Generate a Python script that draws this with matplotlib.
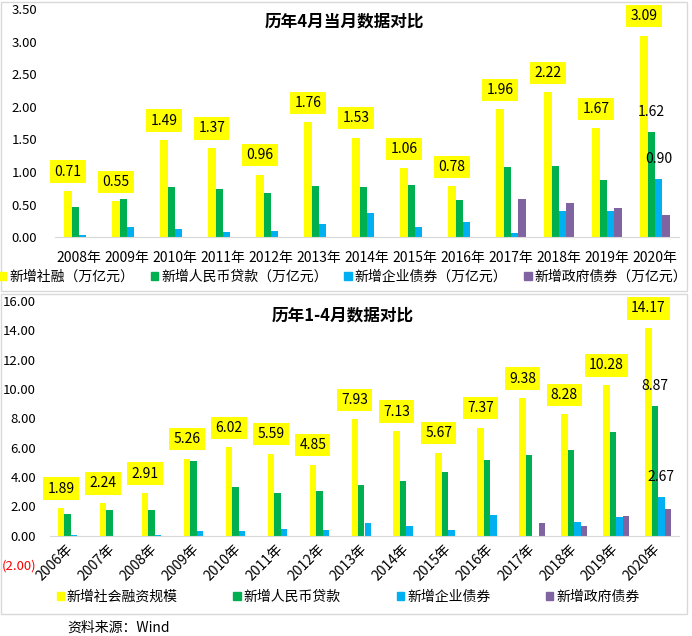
import matplotlib
matplotlib.use('Agg')
import matplotlib.pyplot as plt
from matplotlib.patches import Rectangle
from matplotlib.ticker import FuncFormatter
import numpy as np

plt.rcParams['font.family'] = ['Noto Sans CJK SC', 'DejaVu Sans']

# 历年4月当月 (万亿元)
years_m = ['2008年', '2009年', '2010年', '2011年', '2012年', '2013年', '2014年',
           '2015年', '2016年', '2017年', '2018年', '2019年', '2020年']
tsf_m = [0.71, 0.55, 1.49, 1.37, 0.96, 1.76, 1.53, 1.06, 0.78, 1.96, 2.22, 1.67, 3.09]
loan_m = [0.46, 0.59, 0.77, 0.74, 0.68, 0.79, 0.77, 0.80, 0.57, 1.08, 1.09, 0.88, 1.62]
corp_m = [0.035, 0.16, 0.13, 0.08, 0.10, 0.20, 0.37, 0.16, 0.23, 0.07, 0.40, 0.40, 0.90]
gov_m = [0, 0, 0, 0, 0, 0, 0, 0, 0, 0.59, 0.53, 0.45, 0.34]
names_m = ['新增社融（万亿元）', '新增人民币贷款（万亿元）', '新增企业债券（万亿元）', '新增政府债券（万亿元）']

# 历年1-4月累计
years_c = ['2006年', '2007年', '2008年', '2009年', '2010年', '2011年', '2012年', '2013年',
           '2014年', '2015年', '2016年', '2017年', '2018年', '2019年', '2020年']
tsf_c = [1.89, 2.24, 2.91, 5.26, 6.02, 5.59, 4.85, 7.93, 7.13, 5.67, 7.37, 9.38, 8.28, 10.28, 14.17]
loan_c = [1.48, 1.75, 1.75, 5.09, 3.32, 2.91, 3.05, 3.46, 3.73, 4.34, 5.16, 5.50, 5.84, 7.07, 8.87]
corp_c = [0.05, 0, 0.05, 0.32, 0.32, 0.46, 0.39, 0.87, 0.66, 0.39, 1.41, -0.08, 0.93, 1.27, 2.67]
gov_c = [0, 0, 0, 0, 0, 0, 0, 0, 0, 0, 0, 0.87, 0.66, 1.34, 1.82]
names_c = ['新增社会融资规模', '新增人民币贷款', '新增企业债券', '新增政府债券']

colors = ['#FFFF00', '#00B050', '#00B0F0', '#8064A2']
W, H = 692, 636

fig = plt.figure(figsize=(W / 100, H / 100), dpi=100)

# panel borders
for y0, y1 in [(2, 291), (294, 614)]:
    fig.add_artist(Rectangle((1 / W, 1 - y1 / H), 686 / W, (y1 - y0) / H,
                             transform=fig.transFigure, fill=False,
                             ec='#D9D9D9', lw=1))


def draw(ax, years, series, ylim, step, label_pad):
    x = np.arange(len(years))
    w = 0.155
    for k, (vals, c) in enumerate(zip(series, colors)):
        ax.bar(x + (k - 1.5) * w, vals, w, color=c, zorder=2)
    # yellow labels
    for xi, v in zip(x, series[0]):
        ax.annotate(f'{v:.2f}', (xi - 1.5 * w, v), xytext=(0, 14),
                    textcoords='offset points', ha='center', va='center',
                    fontsize=10,
                    bbox=dict(boxstyle='square,pad=0.3', fc='#FFFF00', ec='none'))
    # 2020 loan / corp labels
    for k in (1, 2):
        v = series[k][-1]
        ax.annotate(f'{v:.2f}', (x[-1] + (k - 1.5) * w, v), xytext=(0, 14),
                    textcoords='offset points', ha='center', va='center',
                    fontsize=10)
    ax.set_xlim(-0.5, len(years) - 0.5)
    ax.set_ylim(*ylim)
    ax.set_yticks(np.arange(ylim[0], ylim[1] + step / 2, step))
    ax.set_xticks(x)
    for s in ['top', 'right', 'left']:
        ax.spines[s].set_visible(False)
    ax.spines['bottom'].set_position(('data', 0))
    ax.spines['bottom'].set_color('#D9D9D9')
    ax.tick_params(length=0, labelsize=10)
    ax.tick_params(axis='y', pad=label_pad, labelsize=9.5)
    ax.patch.set_alpha(0)


ax1 = fig.add_axes([55 / W, 1 - 237.3 / H, 624 / W, 228.3 / H])
draw(ax1, years_m, [tsf_m, loan_m, corp_m, gov_m], (0, 3.5), 0.5, 13)
ax1.set_xticklabels(years_m, fontsize=10)
ax1.tick_params(axis='x', pad=10)
ax1.yaxis.set_major_formatter(FuncFormatter(lambda v, p: f'{v:.2f}'))
fig.text(344 / W, 1 - 21 / H, '历年4月当月数据对比', ha='center', va='center',
         fontsize=12, fontweight='bold')

ax2 = fig.add_axes([50 / W, 1 - 565 / H, 629 / W, 264 / H])
draw(ax2, years_c, [tsf_c, loan_c, corp_c, gov_c], (-2, 16), 2, 10)
ax2.set_xticklabels(years_c, fontsize=10, rotation=45, ha='right',
                    rotation_mode='anchor', va='center')
ax2.tick_params(axis='x', pad=8)
ax2.yaxis.set_major_formatter(
    FuncFormatter(lambda v, p: f'({abs(v):.2f})' if v < 0 else f'{v:.2f}'))
fig.canvas.draw()
for t in ax2.get_yticklabels():
    if t.get_text().startswith('('):
        t.set_color('#FF0000')
fig.text(343 / W, 1 - 315 / H, '历年1-4月数据对比', ha='center', va='center',
         fontsize=12, fontweight='bold')

# legends
h1 = [Rectangle((0, 0), 1, 1, color=c) for c in colors]
fig.legend(h1, names_m, loc='center', bbox_to_anchor=(343 / W, 1 - 277 / H),
           ncol=4, frameon=False, fontsize=10, handlelength=0.55,
           handleheight=0.55, handletextpad=0.2, columnspacing=1.2,
           borderpad=0, borderaxespad=0)
fig.legend(h1, names_c, loc='center', bbox_to_anchor=(348 / W, 1 - 597 / H),
           ncol=4, frameon=False, fontsize=10, handlelength=0.55,
           handleheight=0.55, handletextpad=0.2, columnspacing=4.0,
           borderpad=0, borderaxespad=0)

fig.text(67 / W, 1 - 628 / H, '资料来源：Wind', ha='left', va='center', fontsize=10)

fig.savefig('out.png', dpi=100)
